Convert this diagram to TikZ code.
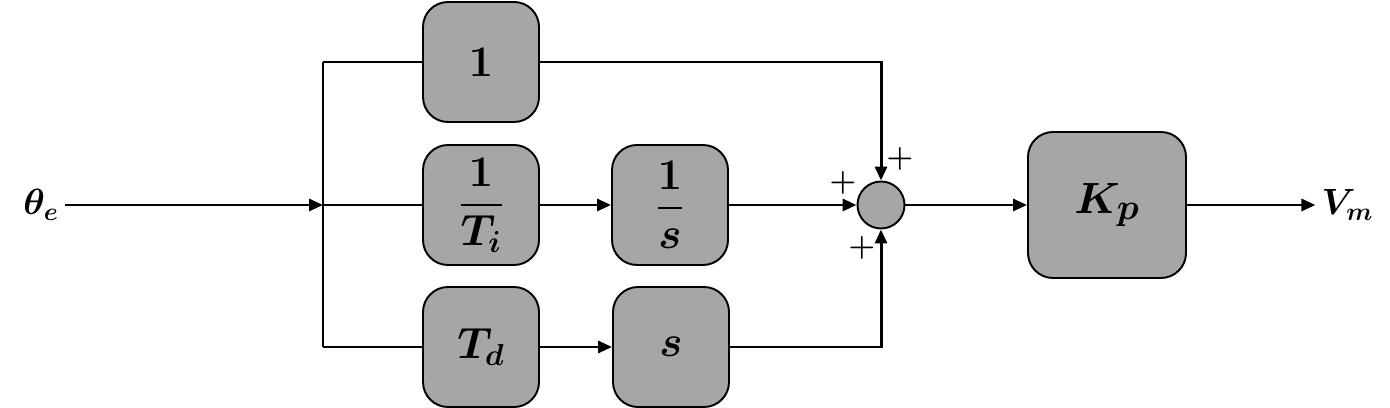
\documentclass[tikz,border=0pt]{standalone}
\usepackage{amsmath}
\usepackage{bm}
\usetikzlibrary{arrows.meta}
\definecolor{blockgray}{RGB}{166,166,166}

\begin{document}
\begin{tikzpicture}[
	block/.style={shape=rectangle,draw=black,fill=blockgray,rounded corners=0.5cm,line width=1.1pt,minimum width=2.32cm,minimum height=2.4cm,inner sep=0pt},
	bigfont/.style={font=\fontsize{30}{34}\selectfont},
	midfont/.style={font=\fontsize{24}{28}\selectfont},
	sumnode/.style={shape=circle,draw=black,fill=blockgray,line width=1.1pt,minimum size=0.94cm,inner sep=0pt},
	signal/.style={-{Triangle[length=0.28cm,width=0.24cm]},line width=1.7pt},
	wire/.style={-,line width=1.7pt},
	sign/.style={font=\fontsize{17}{20}\selectfont,inner sep=0pt}
	]
	
	\useasboundingbox (0,0) rectangle (27.8,8.14);
	
	\node[font=\fontsize{22}{26}\selectfont] (thetae) at (0.82, 4.04)     {$\bm{\theta_e}$};
	\node[block,bigfont] (one) at (9.62, 6.90)     {$\mathbf{1}$};
	\node[block,midfont] (ti) at (9.62, 4.04)     {$\dfrac{\mathbf{1}}{\bm{T_i}}$};
	\node[block,midfont] (td) at (9.62, 1.20)     {$\bm{T_d}$};
	\node[block,midfont] (ints) at (13.40, 4.04)     {$\dfrac{\mathbf{1}}{\bm{s}}$};
	\node[block,midfont] (ds) at (13.42, 1.20)     {$\bm{s}$};
	\node[sumnode] (sum) at (17.62, 4.04)     {};
	\node[block,font=\fontsize{30}{34}\selectfont,minimum width=3.16cm,minimum height=2.92cm] (kp) at (22.14, 4.04)     {$\bm{K_p}$};
	\node[font=\fontsize{22}{26}\selectfont] (vm) at (26.95, 4.04)     {$\bm{V_m}$};
	
	\coordinate (split) at (6.46, 4.04);
	\coordinate (splittop) at (6.46, 6.90);
	\coordinate (splitbot) at (6.46, 1.20);
	
	\node[sign] (plustop) at (18.0, 4.96)     {$\bm{+}$};
	\node[sign] (plusleft) at (16.86, 4.48)     {$\bm{+}$};
	\node[sign] (plusbot) at (17.24, 3.18)     {$\bm{+}$};
	
	\path[signal] (thetae) edge (split);
	\draw[wire] (splittop) -- (splitbot);
	\draw[wire] (splittop) -- (one.west);
	\draw[wire] (split) -- (ti.west);
	\draw[wire] (splitbot) -- (td.west);
	\path[signal] (ti) edge (ints);
	\path[signal] (td) edge (ds);
	\path[signal] (ints) edge (sum);
	\draw[signal] (one.east) -| (sum.north);
	\draw[signal] (ds.east) -| (sum.south);
	\path[signal] (sum) edge (kp);
	\path[signal] (kp) edge (vm);
	
\end{tikzpicture}
\end{document}
